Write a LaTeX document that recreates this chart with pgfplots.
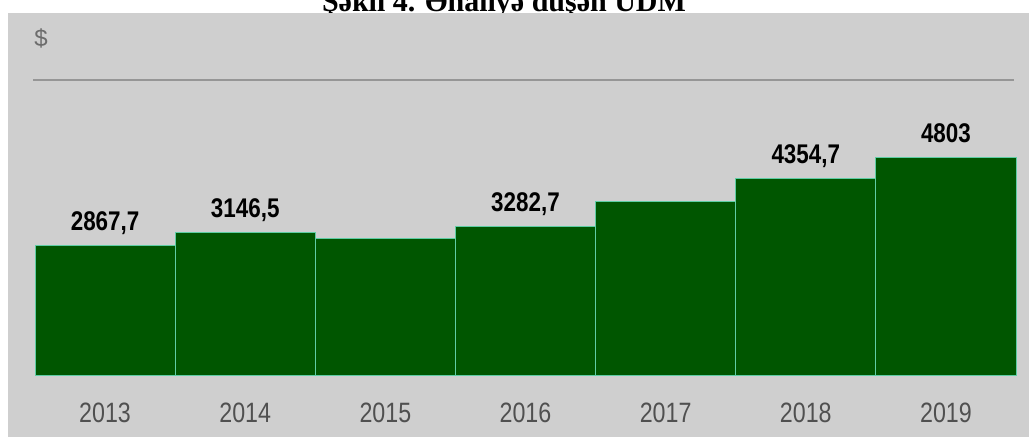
\documentclass[border=0pt]{standalone}
\usepackage{fontspec}
\setmainfont{Liberation Sans}
\newfontfamily\condsans[FakeStretch=0.83]{Liberation Sans}
\newfontfamily\titlefont{Liberation Serif}
\usepackage{pgfplots}
\pgfplotsset{compat=1.18}

\definecolor{bgcol}{RGB}{207,207,207}
\definecolor{barcol}{RGB}{0,86,0}
\definecolor{edgecol}{RGB}{95,205,165}
\definecolor{yearcol}{RGB}{80,80,80}
\definecolor{rulecol}{RGB}{150,150,150}

\begin{document}
\begin{tikzpicture}
\useasboundingbox (0,0) rectangle (1029pt,437pt);
% title, cut off at the top like the scan
\node[anchor=base, inner sep=0pt, font=\titlefont\bfseries\fontsize{30}{34}\selectfont]
  at (504pt,425pt) {Şəkil 4. Əhaliyə düşən ÜDM};
\fill[bgcol] (8pt,0pt) rectangle (1029pt,424pt);
\node[text=gray!85!black, font=\fontsize{24}{28}\selectfont] at (41pt,399pt) {\$};
\draw[rulecol, line width=2pt] (33pt,357pt) -- (1014pt,357pt);

\begin{axis}[
    at={(35pt,61.3pt)}, anchor=south west,
    scale only axis,
    width=981pt, height=295.7pt,
    xmin=-0.5, xmax=6.5,
    ymin=0, ymax=6520,
    axis line style={draw=none},
    tick style={draw=none},
    ytick=\empty,
    xtick={0,...,6},
    xticklabels={2013,2014,2015,2016,2017,2018,2019},
    xticklabel style={anchor=base, yshift=-47pt, text=yearcol,
        font=\condsans\fontsize{28}{32}\selectfont},
    clip=false,
]
\addplot[ybar, bar width=1, fill=barcol, draw=edgecol, line width=1pt]
  coordinates {(0,2867.7) (1,3146.5) (2,3030) (3,3282.7) (4,3840) (5,4354.7) (6,4803)};
\addplot[only marks, mark=none, point meta=explicit symbolic,
    nodes near coords,
    every node near coord/.append style={anchor=base, inner sep=0pt, yshift=15pt,
        text=black, font=\condsans\bfseries\fontsize{27}{30}\selectfont}]
  coordinates {(0,2867.7) [2867,7] (1,3146.5) [3146,5] (3,3282.7) [3282,7]
               (5,4354.7) [4354,7] (6,4803) [4803]};
\end{axis}
\end{tikzpicture}
\end{document}
